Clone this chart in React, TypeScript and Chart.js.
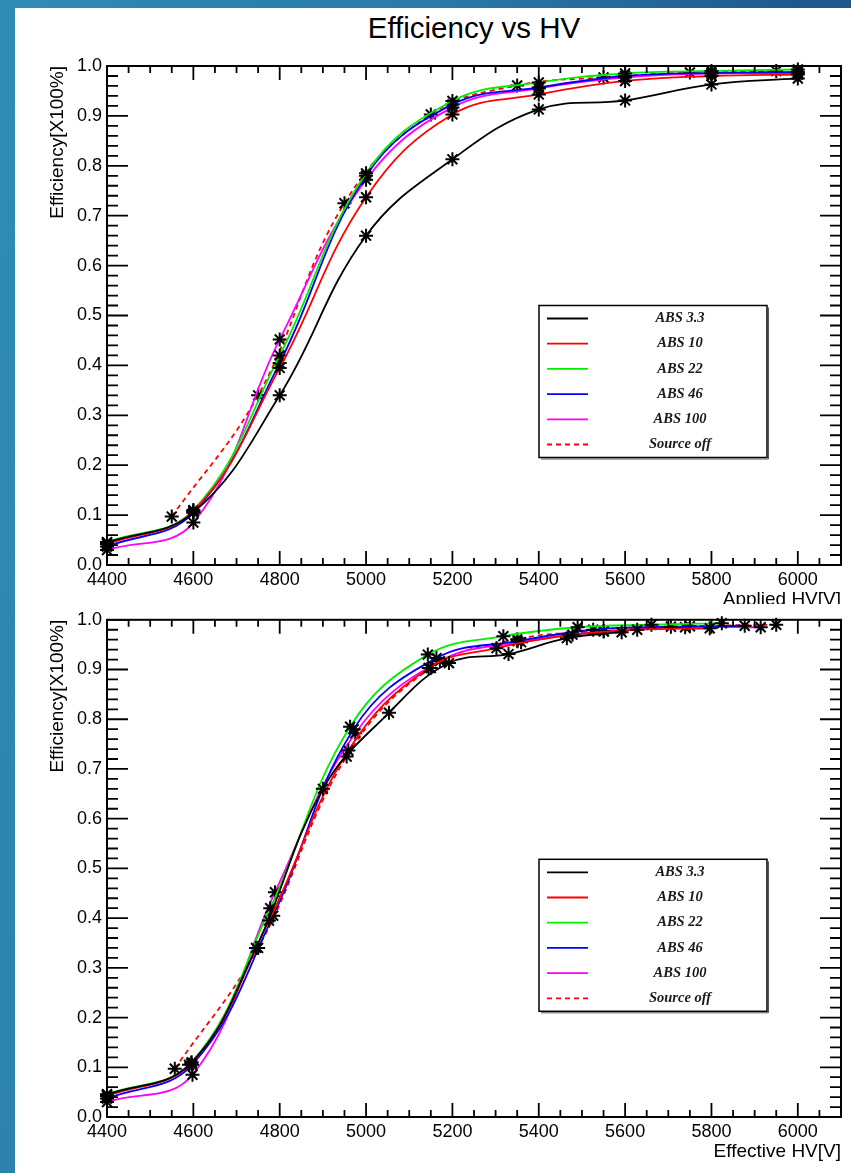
import React, { useEffect, useRef } from "react";
import { Chart, registerables } from "chart.js";

Chart.register(...registerables);

// ---------- data ----------
const seriesLabels = ["ABS 3.3", "ABS 10", "ABS 22", "ABS 46", "ABS 100", "Source off"];
const seriesColors = ["#000000", "#ff0000", "#00ee00", "#0000ff", "#ff00ff", "#ff0000"];

// Applied HV (top panel)
const appliedHV = [4400, 4600, 4800, 5000, 5200, 5400, 5600, 5800, 6000];
const appliedHVSourceOff = [4550, 4750, 4950, 5150, 5350, 5550, 5750, 5950];

// Efficiency values
const effAbs3p3 = [0.045, 0.105, 0.34, 0.66, 0.813, 0.913, 0.931, 0.963, 0.975];
const effAbs10 = [0.042, 0.108, 0.395, 0.737, 0.903, 0.943, 0.97, 0.98, 0.983];
const effAbs22 = [0.046, 0.11, 0.42, 0.785, 0.93, 0.967, 0.985, 0.99, 0.993];
const effAbs46 = [0.037, 0.105, 0.405, 0.78, 0.923, 0.957, 0.98, 0.986, 0.988];
const effAbs100 = [0.03, 0.085, 0.452, 0.772, 0.917, 0.955, 0.977, 0.985, 0.985];
const effSourceOff = [0.097, 0.34, 0.725, 0.903, 0.961, 0.977, 0.987, 0.99];

// Effective HV (bottom panel)
const effHVAbs3p3 = [4400, 4590, 4745, 4900, 5053, 5192, 5330, 5465, 5592];
const effHVAbs10 = [4400, 4595, 4775, 4959, 5145, 5302, 5478, 5628, 5796];
const effHVAbs22 = [4400, 4596, 4778, 4963, 5143, 5318, 5490, 5661, 5824];
const effHVAbs46 = [4400, 4597, 4785, 4971, 5163, 5351, 5526, 5706, 5877];
const effHVAbs100 = [4400, 4598, 4789, 4975, 5171, 5359, 5551, 5739, 5914];
const effHVSourceOff = [4557, 4750, 4955, 5150, 5350, 5550, 5750, 5950];

const xTickValues = [4400, 4600, 4800, 5000, 5200, 5400, 5600, 5800, 6000];
const yTickValues = [0, 0.1, 0.2, 0.3, 0.4, 0.5, 0.6, 0.7, 0.8, 0.9, 1.0];

const effAll = [effAbs3p3, effAbs10, effAbs22, effAbs46, effAbs100, effSourceOff];
const topX = [appliedHV, appliedHV, appliedHV, appliedHV, appliedHV, appliedHVSourceOff];
const bottomX = [effHVAbs3p3, effHVAbs10, effHVAbs22, effHVAbs46, effHVAbs100, effHVSourceOff];

const SANS = "'Liberation Sans', Arial, Helvetica, sans-serif";
const SERIF = "'Liberation Serif', 'Times New Roman', serif";

// ---------- plugins ----------
const rootFrame = {
  id: "rootFrame",
  afterDatasetsDraw(chart: any) {
    const { ctx, chartArea: a, scales } = chart;
    const x = scales.x;
    const y = scales.y;
    ctx.save();
    ctx.strokeStyle = "#000";
    ctx.lineWidth = 1.8;
    ctx.beginPath();
    for (let v = 4400; v <= 6050; v += 50) {
      const px = x.getPixelForValue(v);
      const major = (v - 4400) % 200 === 0;
      const L = major ? 14 : 7;
      ctx.moveTo(px, a.bottom);
      ctx.lineTo(px, a.bottom - L);
      ctx.moveTo(px, a.top);
      ctx.lineTo(px, a.top + L);
    }
    for (let i = 0; i <= 50; i++) {
      const py = y.getPixelForValue(i * 0.02);
      const major = i % 5 === 0;
      const L = major ? 21 : 11;
      ctx.moveTo(a.left, py);
      ctx.lineTo(a.left + L, py);
      ctx.moveTo(a.right, py);
      ctx.lineTo(a.right - L, py);
    }
    ctx.stroke();
    ctx.lineWidth = 2;
    ctx.strokeRect(a.left, a.top, a.right - a.left, a.bottom - a.top);
    ctx.restore();
  },
};

const legendBox = {
  id: "legendBox",
  afterDraw(chart: any) {
    const { ctx, chartArea: a } = chart;
    const L = a.left + 432;
    const T = a.top + 239.5;
    const W = 228;
    const H = 152;
    ctx.save();
    ctx.fillStyle = "#fff";
    ctx.fillRect(L, T, W, H);
    ctx.strokeStyle = "#000";
    ctx.lineWidth = 1.5;
    ctx.strokeRect(L, T, W, H);
    ctx.strokeStyle = "#555";
    ctx.lineWidth = 1;
    ctx.beginPath();
    ctx.moveTo(L + 2, T + H + 1.5);
    ctx.lineTo(L + W + 1.5, T + H + 1.5);
    ctx.lineTo(L + W + 1.5, T + 2);
    ctx.stroke();
    chart.data.datasets.forEach((ds: any, i: number) => {
      const yy = T + 13 + i * 25.2;
      ctx.strokeStyle = ds.borderColor;
      ctx.lineWidth = 1.8;
      ctx.setLineDash(ds.borderDash || []);
      ctx.beginPath();
      ctx.moveTo(L + 8, yy);
      ctx.lineTo(L + 49, yy);
      ctx.stroke();
      ctx.setLineDash([]);
      ctx.fillStyle = "#1a1a1a";
      ctx.font = `italic bold 14.5px ${SERIF}`;
      ctx.textAlign = "center";
      ctx.textBaseline = "middle";
      ctx.fillText(ds.label, L + 141, yy);
    });
    ctx.restore();
  },
};

function buildConfig(xs: number[][], xTitle: string, padTop: number, xHeight: number, titlePadBottom: number): any {
  const datasets = seriesLabels.map((label, i) => ({
    label,
    data: xs[i].map((xv, j) => ({ x: xv, y: effAll[i][j] })),
    borderColor: seriesColors[i],
    backgroundColor: seriesColors[i],
    borderWidth: 1.8,
    borderDash: i === 5 ? [5, 4] : [],
    tension: 0.4,
    pointStyle: "star",
    pointRadius: 7,
    pointBorderWidth: 2,
    pointBorderColor: "#000",
    pointBackgroundColor: "#000",
    clip: 10,
    order: i,
  }));
  return {
    type: "line",
    data: { datasets },
    options: {
      animation: false,
      responsive: false,
      maintainAspectRatio: false,
      events: [],
      layout: { padding: { top: padTop, right: 10, left: 0, bottom: 0 } },
      plugins: {
        legend: { display: false },
        tooltip: { enabled: false },
        title: { display: false },
      },
      scales: {
        x: {
          type: "linear",
          min: 4400,
          max: 6100,
          afterBuildTicks: (s: any) => {
            s.ticks = xTickValues.map((v) => ({ value: v }));
          },
          afterFit: (s: any) => {
            s.height = xHeight;
          },
          grid: { display: false, drawTicks: false },
          border: { display: false },
          ticks: {
            autoSkip: false,
            maxRotation: 0,
            padding: 4,
            color: "#000",
            font: { family: SANS, size: 18 },
            callback: (v: any) => String(v),
          },
          title: {
            display: true,
            text: xTitle,
            align: "end",
            color: "#000",
            font: { family: SANS, size: 19 },
            padding: { top: 0, bottom: titlePadBottom },
          },
        },
        y: {
          type: "linear",
          min: 0,
          max: 1,
          afterBuildTicks: (s: any) => {
            s.ticks = yTickValues.map((v) => ({ value: v }));
          },
          afterFit: (s: any) => {
            s.width = 92;
          },
          grid: { display: false, drawTicks: false },
          border: { display: false },
          ticks: {
            autoSkip: false,
            padding: 5,
            color: "#000",
            font: { family: SANS, size: 18 },
            callback: (v: any) => Number(v).toFixed(1),
          },
          title: {
            display: true,
            text: "Efficiency[X100%]",
            align: "end",
            color: "#000",
            font: { family: SANS, size: 19 },
            padding: { top: 31.6, bottom: 0 },
          },
        },
      },
    },
    plugins: [rootFrame, legendBox],
  };
}

export default function App() {
  const topRef = useRef<HTMLCanvasElement | null>(null);
  const botRef = useRef<HTMLCanvasElement | null>(null);

  useEffect(() => {
    const c1 = new Chart(topRef.current as HTMLCanvasElement, buildConfig(topX, "Applied HV[V]", 26, 50, 3.6));
    const c2 = new Chart(botRef.current as HTMLCanvasElement, buildConfig(bottomX, "Effective HV[V]", 13, 56, 9.6));
    return () => {
      c1.destroy();
      c2.destroy();
    };
  }, []);

  return (
    <div
      style={{
        position: "absolute",
        left: 0,
        top: 0,
        width: 851,
        height: 1173,
        overflow: "hidden",
        background: "linear-gradient(100deg, #2f8cb5 0%, #2a7aa7 40%, #1f5a8f 75%, #1b4b82 100%)",
      }}
    >
      <div style={{ position: "absolute", left: 15, top: 8, right: 0, bottom: 0, background: "#fff" }} />
      <div
        style={{
          position: "absolute",
          left: 107,
          width: 734,
          top: 13,
          textAlign: "center",
          fontFamily: SANS,
          fontSize: 29.5,
          lineHeight: "29.5px",
          color: "#000",
        }}
      >
        Efficiency vs HV
      </div>
      <canvas
        ref={topRef}
        width={836}
        height={575}
        style={{ position: "absolute", left: 15, top: 40, width: 836, height: 575 }}
      />
      <canvas
        ref={botRef}
        width={836}
        height={569}
        style={{ position: "absolute", left: 15, top: 604, width: 836, height: 569, background: "#fff" }}
      />
    </div>
  );
}
